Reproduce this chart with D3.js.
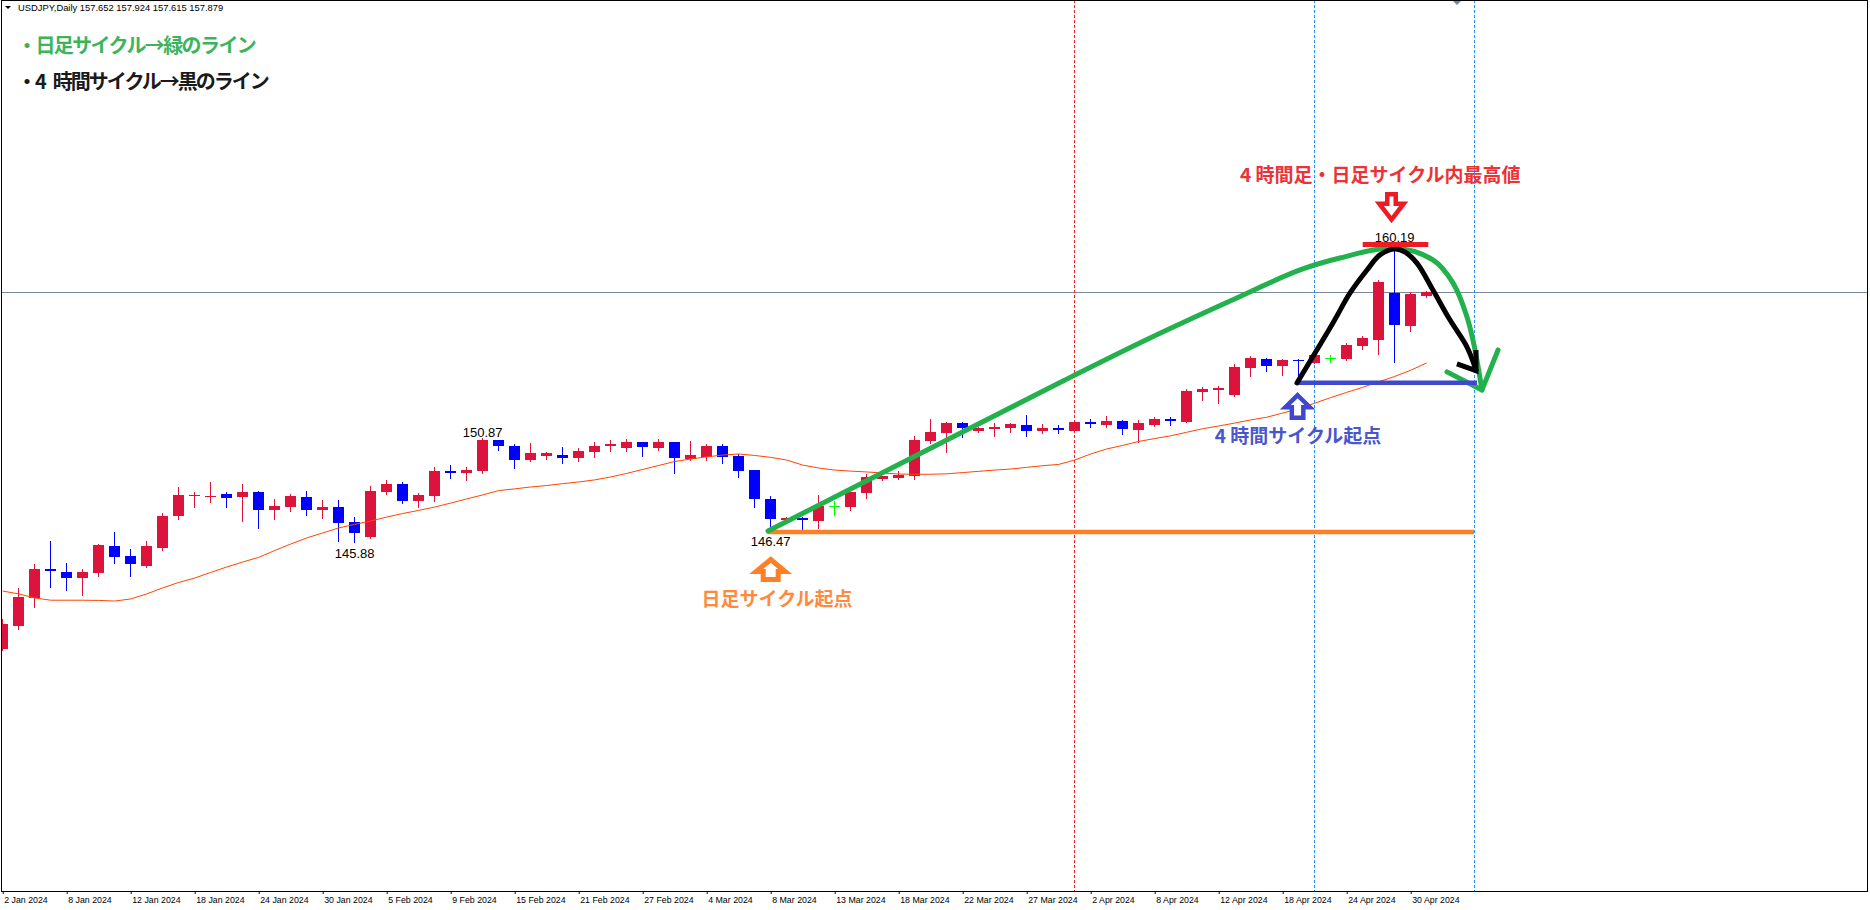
<!DOCTYPE html>
<html><head><meta charset="utf-8"><title>USDJPY Daily</title>
<script src="https://cdn.jsdelivr.net/npm/d3@7"></script>
<style>html,body{margin:0;padding:0;background:#fff;overflow:hidden}svg{display:block}</style>
</head><body>
<svg id="chart" width="1870" height="910"></svg>
<script>
// ---- data ----
const dates = ["2 Jan","3 Jan","4 Jan","5 Jan","8 Jan","9 Jan","10 Jan","11 Jan","12 Jan","15 Jan",
"16 Jan","17 Jan","18 Jan","19 Jan","22 Jan","23 Jan","24 Jan","25 Jan","26 Jan","29 Jan",
"30 Jan","31 Jan","1 Feb","2 Feb","5 Feb","6 Feb","7 Feb","8 Feb","9 Feb","12 Feb",
"13 Feb","14 Feb","15 Feb","16 Feb","19 Feb","20 Feb","21 Feb","22 Feb","23 Feb","26 Feb",
"27 Feb","28 Feb","29 Feb","1 Mar","4 Mar","5 Mar","6 Mar","7 Mar","8 Mar","10 Mar",
"11 Mar","12 Mar","13 Mar","14 Mar","15 Mar","17 Mar","18 Mar","19 Mar","20 Mar","21 Mar",
"22 Mar","24 Mar","25 Mar","26 Mar","27 Mar","28 Mar","29 Mar","1 Apr","2 Apr","3 Apr",
"4 Apr","5 Apr","8 Apr","9 Apr","10 Apr","11 Apr","12 Apr","15 Apr","16 Apr","17 Apr",
"18 Apr","19 Apr","22 Apr","23 Apr","24 Apr","25 Apr","26 Apr","29 Apr","30 Apr","1 May"];
const opens = [140.78,141.89,143.23,144.62,144.46,144.19,144.43,145.71,145.23,144.76,
145.62,147.16,148.10,148.07,148.20,148.07,148.29,147.44,147.59,148.05,
147.44,147.57,146.87,146.15,148.31,148.67,147.87,148.11,149.30,149.19,
149.30,150.78,150.51,149.82,150.03,150.06,149.93,150.22,150.49,150.41,
150.67,150.41,150.67,149.87,149.95,150.49,150.01,149.34,147.96,146.95,
147.06,146.92,147.61,147.59,148.26,148.90,148.98,149.07,150.75,151.13,
151.61,151.23,151.32,151.37,151.50,151.23,151.34,151.23,151.66,151.50,
151.69,151.28,151.50,151.77,151.66,153.09,153.17,152.93,154.24,154.64,
154.34,154.61,154.48,154.72,154.66,155.29,155.57,157.80,156.24,157.652];
const highs = [142.21,143.71,144.84,145.96,144.89,144.61,145.80,146.38,145.56,145.95,
147.29,148.53,148.30,148.76,148.30,148.67,148.35,147.96,148.20,148.34,
147.91,147.91,147.09,148.58,148.87,148.77,148.26,149.50,149.58,149.50,
150.87,150.80,150.57,150.65,150.22,150.46,150.41,150.70,150.78,150.83,
150.69,150.83,150.69,150.73,150.57,150.57,150.10,149.36,148.08,147.11,
147.09,148.15,147.87,148.31,149.15,149.08,149.30,150.97,151.77,151.63,
151.64,151.40,151.61,151.61,151.98,151.55,151.50,151.74,151.79,151.93,
151.74,151.74,151.89,151.89,153.21,153.33,153.36,154.42,154.80,154.69,
154.65,154.64,154.90,154.85,155.41,155.76,158.44,160.19,157.88,157.924];
const lows = [140.73,141.75,142.80,143.76,143.61,143.36,144.28,144.89,144.28,144.70,
145.51,147.00,147.59,147.80,147.59,146.92,146.58,147.01,147.37,147.20,
147.06,145.96,145.88,146.10,148.20,147.78,147.59,147.87,148.98,148.87,
149.19,150.30,149.45,149.79,149.86,149.66,149.78,149.98,150.27,150.25,
150.03,150.30,149.19,149.82,149.82,149.66,149.02,147.55,146.47,146.93,
146.52,146.58,147.19,147.43,147.99,148.87,148.90,148.93,150.62,150.22,
150.94,151.15,150.97,151.18,150.97,151.13,151.13,151.20,151.42,151.42,
151.07,150.70,151.45,151.50,151.64,152.69,152.57,152.89,153.84,154.08,
153.89,153.57,154.45,154.53,154.63,155.14,154.90,154.50,156.00,157.615];
const closes = [141.97,143.26,144.61,144.52,144.19,144.46,145.75,145.19,144.86,145.71,
147.14,148.15,148.15,148.10,148.02,148.29,147.44,147.62,148.10,147.44,
147.57,146.82,146.34,148.34,148.67,147.87,148.15,149.30,149.21,149.36,
150.78,150.51,149.82,150.17,150.14,149.93,150.25,150.49,150.57,150.67,
150.46,150.67,149.93,150.06,150.49,149.98,149.31,147.96,147.00,147.06,
146.94,147.62,147.61,148.29,148.99,149.06,149.09,150.78,151.16,151.61,
151.37,151.34,151.39,151.53,151.23,151.37,151.27,151.64,151.53,151.70,
151.29,151.61,151.80,151.70,153.13,153.24,153.28,154.29,154.72,154.34,
154.61,154.56,154.85,154.72,155.33,155.65,158.33,156.30,157.77,157.879];
const maValues = [143.55,143.41,143.22,143.11,143.11,143.11,143.10,143.07,143.17,143.41,
143.70,143.96,144.17,144.44,144.70,144.94,145.16,145.49,145.80,146.09,
146.33,146.57,146.74,146.90,147.09,147.26,147.41,147.57,147.76,147.96,
148.15,148.36,148.44,148.53,148.60,148.69,148.77,148.87,149.01,149.18,
149.37,149.56,149.75,149.87,149.97,150.06,150.11,150.04,149.95,149.82,
149.58,149.44,149.34,149.29,149.25,149.20,149.15,149.14,149.14,149.16,
149.22,149.28,149.34,149.39,149.47,149.55,149.61,149.82,150.11,150.35,
150.52,150.71,150.85,150.98,151.15,151.32,151.45,151.59,151.74,151.87,
152.07,152.28,152.54,152.81,153.06,153.30,153.57,153.82,154.12,154.47];
const tickLabels = ["2 Jan 2024","8 Jan 2024","12 Jan 2024","18 Jan 2024","24 Jan 2024","30 Jan 2024",
"5 Feb 2024","9 Feb 2024","15 Feb 2024","21 Feb 2024","27 Feb 2024","4 Mar 2024","8 Mar 2024",
"13 Mar 2024","18 Mar 2024","22 Mar 2024","27 Mar 2024","2 Apr 2024","8 Apr 2024","12 Apr 2024",
"18 Apr 2024","24 Apr 2024","30 Apr 2024"];
const symbolName = "USDJPY,Daily";
// labelled extremes: [bar index, kind]
const extremeLabels = [[22,"low"],[30,"high"],[48,"low"],[87,"high"]];
// vertical marker lines: [bar index, colour]
const vLines = [[67,"#ff2020"],[82,"#1e90ff"],[92,"#1e90ff"]];
// hand drawn annotations, in (bar index, price)
const greenCycle = [[47.83,146.42],[66.39,153.65],[71.71,155.66],[76.71,157.43],[81.08,158.92],[83.58,159.49],
  [86.89,159.97],[89.39,159.40],[90.64,158.30],[91.52,156.67],[92.02,155.09],[92.45,153.17]];
const greenHead = [[90.27,154.04],[92.45,153.17],[93.46,155.09]];
const blackCycle = [[80.89,153.51],[83.14,156.38],[84.21,157.82],[85.27,158.92],[86.08,159.64],[87.02,159.92],
  [87.64,159.78],[88.39,159.25],[89.39,157.96],[90.46,156.52],[91.52,155.23],[92.08,154.13]];
const blackHead = [[90.89,154.42],[92.08,154.10],[92.08,155.09]];
const orangeLevel = {from:47.83, to:91.96, price:146.38};
const blueLevel = {from:80.89, to:92.14, price:153.52};
const redLevel = {from:85.0, to:89.1, price:160.14};

// ---- scales ----
const W = 1870, H = 910, axisY = 891;
const x = d3.scaleLinear().domain([0, 1]).range([2.7, 18.7]);
const y = d3.scaleLinear().domain([129.19, 171.843]).range([axisY, 0]);
const svg = d3.select("#chart");
const latin = "'Liberation Sans', Arial, sans-serif";
const jp = "'Noto Sans CJK JP', sans-serif";

svg.append("defs").append("clipPath").attr("id","plot")
  .append("rect").attr("x",2).attr("y",0).attr("width",1865).attr("height",axisY);
const plot = svg.append("g").attr("clip-path","url(#plot)");

// bid line
const last = closes.length - 1;
plot.append("line").attr("x1",0).attr("x2",W)
  .attr("y1",Math.round(y(closes[last]))+0.5).attr("y2",Math.round(y(closes[last]))+0.5)
  .attr("stroke","#778899").attr("stroke-width",1);

// vertical dotted lines
plot.selectAll("line.vl").data(vLines).join("line").attr("class","vl")
  .attr("x1",d=>Math.floor(x(d[0]))+0.5).attr("x2",d=>Math.floor(x(d[0]))+0.5)
  .attr("y1",0).attr("y2",axisY)
  .attr("stroke",d=>d[1]).attr("stroke-width",1).attr("stroke-dasharray","3,2");

// candles
const candles = dates.map((d,i)=>({i, o:opens[i], h:highs[i], l:lows[i], c:closes[i]}));
const colour = c => c.c > c.o ? "#dc143c" : (c.c < c.o ? "#0000ff" : "#00ff00");
const cg = plot.append("g").attr("shape-rendering","crispEdges");
cg.selectAll("line.wick").data(candles).join("line").attr("class","wick")
  .attr("x1",c=>Math.floor(x(c.i))+0.5).attr("x2",c=>Math.floor(x(c.i))+0.5)
  .attr("y1",c=>Math.round(y(c.h))).attr("y2",c=>Math.round(y(c.l))+1)
  .attr("stroke",colour).attr("stroke-width",1);
cg.selectAll("rect.body").data(candles).join("rect").attr("class","body")
  .attr("x",c=>Math.floor(x(c.i))-5).attr("width",11)
  .attr("y",c=>Math.round(y(Math.max(c.o,c.c))))
  .attr("height",c=>Math.max(1, Math.round(y(Math.min(c.o,c.c))) - Math.round(y(Math.max(c.o,c.c)))))
  .attr("fill",colour);

// moving average
plot.append("path").datum(maValues)
  .attr("d", d3.line().x((v,i)=>x(i)).y(v=>y(v)))
  .attr("fill","none").attr("stroke","#ff4500").attr("stroke-width",1);

// extreme price labels
plot.selectAll("text.ext").data(extremeLabels).join("text").attr("class","ext")
  .attr("x",d=>x(d[0])).attr("text-anchor","middle")
  .attr("y",d=> d[1]==="high" ? y(highs[d[0]]) - 1 : y(lows[d[0]]) + 15.5)
  .attr("font-family",latin).attr("font-size",13).attr("fill","#000")
  .text(d=> (d[1]==="high" ? highs[d[0]] : lows[d[0]]).toFixed(2));

// ---- annotations ----
const ann = svg.append("g");
const lineGen = d3.line().x(p=>x(p[0])).y(p=>y(p[1]));
const curveGen = d3.line().x(p=>x(p[0])).y(p=>y(p[1])).curve(d3.curveCatmullRom.alpha(0.5));
function level(l, col, w){
  ann.append("line").attr("x1",x(l.from)).attr("x2",x(l.to))
    .attr("y1",y(l.price)).attr("y2",y(l.price))
    .attr("stroke",col).attr("stroke-width",w);
}
level(orangeLevel,"#ff7f27",4.5);
ann.append("path").attr("d",curveGen(greenCycle)).attr("fill","none").attr("stroke","#22b14c").attr("stroke-width",5).attr("stroke-linecap","round");
ann.append("path").attr("d",lineGen(greenHead)).attr("fill","none").attr("stroke","#22b14c").attr("stroke-width",5).attr("stroke-linejoin","round").attr("stroke-linecap","round");
level(blueLevel,"#3f48cc",4.5);
ann.append("path").attr("d",curveGen(blackCycle)).attr("fill","none").attr("stroke","#000").attr("stroke-width",5).attr("stroke-linecap","round");
ann.append("path").attr("d",lineGen(blackHead)).attr("fill","none").attr("stroke","#000").attr("stroke-width",5).attr("stroke-linejoin","miter");
level(redLevel,"#ed1c24",5);

// hollow block arrows: anchor = tip (bar index, price), dir -1 points up, +1 points down
function blockArrow(i, price, dir, w, headH, shaftW, totalH, s, col){
  const cx = x(i), ty = y(price) - dir*s/2;
  const hw = (w - s)/2, sw = (shaftW - s)/2, hh = headH, th = totalH - s;
  const pts = [[cx,ty],[cx+hw,ty-dir*hh],[cx+sw,ty-dir*hh],[cx+sw,ty-dir*th],
               [cx-sw,ty-dir*th],[cx-sw,ty-dir*hh],[cx-hw,ty-dir*hh]];
  ann.append("path").attr("d", d3.line()(pts) + "Z")
    .attr("fill","#fff").attr("stroke",col).attr("stroke-width",s).attr("stroke-linejoin","miter");
}
blockArrow(48, 145.18, -1, 34, 12, 20, 25, 5, "#ff7f27");
blockArrow(80.93, 153.03, -1, 29, 12, 16, 27, 4.5, "#3f48cc");
blockArrow(86.8, 161.22, 1, 29, 16, 13, 30, 4.5, "#ed1c24");

function annText(i, price, txt, col){
  ann.append("text").attr("x",x(i)).attr("y",y(price)).attr("text-anchor","middle")
    .attr("font-family",jp).attr("font-weight",700).attr("font-size",19)
    .attr("fill",col).text(txt);
}
annText(48.4, 142.83, "日足サイクル起点", "#ff8a3c");
annText(80.96, 150.64, "4 時間サイクル起点", "#4a57cc");
annText(86.1, 163.13, "4 時間足・日足サイクル内最高値", "#ed3237");

// legend lines
svg.append("text").attr("x",17).attr("y",53).attr("font-family",jp).attr("font-weight",700)
  .attr("font-size",20).attr("letter-spacing",-1.6).attr("fill","#3cb45c").text("・日足サイクル→緑のライン");
svg.append("text").attr("x",17).attr("y",89).attr("font-family",jp).attr("font-weight",700)
  .attr("font-size",20).attr("letter-spacing",-2).attr("fill","#1a1a1a").text("・4\u2002時間サイクル→黒のライン");

// header
svg.append("path").attr("d","M5,6 L11,6 L8,9 Z").attr("fill","#000");
svg.append("text").attr("x",18).attr("y",11).attr("font-family",latin).attr("font-size",9.4).attr("fill","#000")
  .text(`${symbolName}  ${opens[last].toFixed(3)} ${highs[last].toFixed(3)} ${lows[last].toFixed(3)} ${closes[last].toFixed(3)}`);
// chart shift marker
svg.append("path").attr("d","M1452,0 L1462,0 L1457,5 Z").attr("fill","#778899");

// frame
svg.append("line").attr("x1",1).attr("x2",1868).attr("y1",0.5).attr("y2",0.5).attr("stroke","#000");
svg.append("line").attr("x1",1.5).attr("x2",1.5).attr("y1",0).attr("y2",axisY+1).attr("stroke","#000");
svg.append("line").attr("x1",1867.5).attr("x2",1867.5).attr("y1",0).attr("y2",axisY+1).attr("stroke","#000");

// time axis
const tickIdx = tickLabels.map(l => dates.indexOf(l.replace(" 2024","")));
const axis = d3.axisBottom(x).tickValues(tickIdx).tickFormat((d,k)=>tickLabels[k]).tickSize(3).tickPadding(3);
const ag = svg.append("g").attr("transform",`translate(0,${axisY})`).call(axis);
ag.select(".domain").remove();
ag.selectAll(".tick line").attr("stroke","#000");
ag.selectAll(".tick text").attr("text-anchor","start").attr("x",1)
  .attr("font-family",latin).attr("font-size",8.8).attr("fill","#000");
svg.append("line").attr("x1",1).attr("x2",1868).attr("y1",axisY+0.5).attr("y2",axisY+0.5).attr("stroke","#000");
</script>
</body></html>
